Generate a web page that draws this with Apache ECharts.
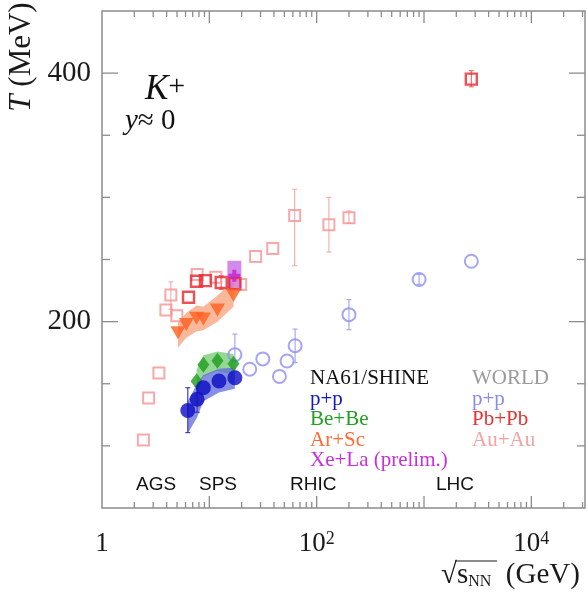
<!DOCTYPE html>
<html>
<head>
<meta charset="utf-8">
<script src="https://cdn.jsdelivr.net/npm/echarts@6/dist/echarts.min.js"></script>
<style>
html, body { margin: 0; padding: 0; background: #fff; }
#chart { width: 588px; height: 600px; }
</style>
</head>
<body>
<div id="chart"></div>
<script>
// axis ticks
const yTickValues = [50, 100, 150, 200, 250, 300, 350, 400, 450];
const yMajorLabels = [200, 400];
const xLabelExponents = [0, 2, 4];

// NA61/SHINE p+p
const na61PpX = [6.3, 7.7, 8.8, 12.3, 17.3];
const na61PpT = [128.5, 137.5, 146.8, 152.2, 154.8];
const na61PpBandLo = [110, 123, 136, 143, 146];
const na61PpBandHi = [136, 150, 157, 162, 163];
const na61PpErr = [[6.3, 110.7, 146.8], [7.7, 127, 148]];

// NA61/SHINE Be+Be
const beX = [7.6, 8.8, 11.9, 16.8];
const beT = [152, 165.3, 168.5, 166.1];
const beBandLo = [142, 156, 160, 157];
const beBandHi = [161, 173, 176, 174];

// NA61/SHINE Ar+Sc
const arX = [5.1, 6.1, 7.6, 8.8, 11.9, 16.8];
const arT = [191.1, 197.6, 202.8, 202.2, 209.3, 221];
const arBandLo = [179, 187, 192, 193, 200, 212];
const arBandHi = [199, 207, 213, 212, 221, 233];

// NA61/SHINE Xe+La (prelim.)
const xeX = [17.1];
const xeT = [237];
const xeBoxLo = [227];
const xeBoxHi = [249];

// WORLD p+p
const worldPpX = [17.3, 23.8, 31.5, 45, 53, 63, 200, 900, 2760];
const worldPpT = [173.4, 161.7, 170, 155.9, 168.3, 180.6, 205.6, 233.9, 248.6];
const worldPpErr = [[17.3, 160, 190], [63, 167, 194], [200, 193.5, 217.7], [900, 230, 238]];

// WORLD Pb+Pb
const pbX = [6.4, 7.6, 9.2, 12.9, 17.3, 2760];
const pbT = [219.6, 232.5, 233, 231.5, 230.6, 395.2];
const pbErr = [[12.9, 226, 237], [2760, 389, 402]];

// WORLD Au+Au
const auX = [2.43, 2.72, 3.39, 3.94, 4.38, 4.98, 7.7, 11.5, 19.6, 27, 39, 62.4, 130, 200];
const auT = [104.8, 138.5, 158.6, 209.3, 221.4, 204.8, 237.9, 235.7, 229.8, 252.4, 258.9, 285.5, 278, 283.6];
const auErr = [[4.38, 210, 232], [62.4, 245, 306.5], [130, 256, 300], [200, 279, 289]];

const X_MAX = Math.pow(10, 4.5);
const SERIF = 'Liberation Serif';
const SANS = 'Liberation Sans';

const zip = (xs, ys) => xs.map((x, i) => [x, ys[i]]);

function bandSeries(xs, lo, hi, color, z) {
  return {
    type: 'custom', coordinateSystem: 'cartesian2d', silent: true, z: z,
    data: [[xs[0], lo[0]]],
    renderItem: function (params, api) {
      const pts = [];
      xs.forEach((x, i) => pts.push(api.coord([x, hi[i]])));
      for (let i = xs.length - 1; i >= 0; i--) pts.push(api.coord([xs[i], lo[i]]));
      return { type: 'polygon', shape: { points: pts }, style: { fill: color } };
    }
  };
}

function errSeries(rows, color, z) {
  return {
    type: 'custom', coordinateSystem: 'cartesian2d', silent: true, z: z,
    data: rows,
    encode: { x: 0, y: [1, 2] },
    renderItem: function (params, api) {
      const a = api.coord([api.value(0), api.value(1)]);
      const b = api.coord([api.value(0), api.value(2)]);
      const st = { stroke: color, lineWidth: 1.2 };
      return {
        type: 'group', children: [
          { type: 'line', shape: { x1: a[0], y1: a[1], x2: b[0], y2: b[1] }, style: st },
          { type: 'line', shape: { x1: a[0] - 2.5, y1: a[1], x2: a[0] + 2.5, y2: a[1] }, style: st },
          { type: 'line', shape: { x1: b[0] - 2.5, y1: b[1], x2: b[0] + 2.5, y2: b[1] }, style: st }
        ]
      };
    }
  };
}

// frame ticks on all four sides (inside)
const tickSeries = {
  type: 'custom', coordinateSystem: 'cartesian2d', silent: true, z: 20,
  data: [[1, 50]],
  renderItem: function (params, api) {
    const ch = [];
    const st = { stroke: '#8c8c8c', lineWidth: 1.3 };
    const yb = api.coord([1, 50])[1];
    const yt = api.coord([1, 450])[1];
    for (let k = 0; k <= 4; k++) {
      for (let m = 1; m <= 9; m++) {
        const v = m * Math.pow(10, k);
        if (v <= 1 || v > X_MAX) continue;
        const x = api.coord([v, 50])[0];
        const len = m === 1 ? 12 : 6;
        ch.push({ type: 'line', shape: { x1: x, y1: yb, x2: x, y2: yb - len }, style: st });
        ch.push({ type: 'line', shape: { x1: x, y1: yt, x2: x, y2: yt + len }, style: st });
      }
    }
    const xl = api.coord([1, 50])[0];
    const xr = api.coord([X_MAX, 50])[0];
    yTickValues.forEach(v => {
      if (v === 50 || v === 450) return;
      const y = api.coord([1, v])[1];
      const len = yMajorLabels.includes(v) ? 16 : 8;
      ch.push({ type: 'line', shape: { x1: xl, y1: y, x2: xl + len, y2: y }, style: st });
      ch.push({ type: 'line', shape: { x1: xr, y1: y, x2: xr - len, y2: y }, style: st });
    });
    return { type: 'group', children: ch };
  }
};

const chart = echarts.init(document.getElementById('chart'));

function legendText(x, y, text, color) {
  return { type: 'text', x: x, y: y, style: { text: text, fill: color, font: '21px "' + SERIF + '"', verticalAlign: 'middle' } };
}
function machineText(x, y, text) {
  return { type: 'text', x: x, y: y, style: { text: text, fill: '#111', font: '19px "' + SANS + '"', verticalAlign: 'middle' } };
}

chart.setOption({
  animation: false,
  grid: { left: 102, top: 11, right: 0, bottom: 92, show: true, borderColor: '#8c8c8c', borderWidth: 1.5 },
  xAxis: {
    type: 'log', logBase: 10, min: 1, max: X_MAX,
    axisLine: { show: false }, axisTick: { show: false }, splitLine: { show: false },
    axisLabel: {
      margin: 22,
      formatter: function (v) {
        const e = Math.log10(v);
        const r = Math.round(e);
        if (Math.abs(e - r) > 1e-6 || !xLabelExponents.includes(r)) return '';
        return r === 0 ? '{b|1}' : '{b|10}{s|' + r + '}';
      },
      rich: {
        b: { fontFamily: SERIF, fontSize: 27, color: '#1a1a1a', lineHeight: 28 },
        s: { fontFamily: SERIF, fontSize: 18, color: '#1a1a1a', verticalAlign: 'top', lineHeight: 17 }
      }
    }
  },
  yAxis: {
    type: 'value', min: 50, max: 450, interval: 50,
    axisLine: { show: false }, axisTick: { show: false }, splitLine: { show: false },
    axisLabel: {
      margin: 11, fontFamily: SERIF, fontSize: 29, color: '#1a1a1a',
      formatter: v => yMajorLabels.includes(v) ? String(v) : ''
    }
  },
  graphic: [
    { type: 'text', x: 22, y: 57, rotation: Math.PI / 2,
      style: { text: '{i|T} (MeV)', align: 'center', verticalAlign: 'middle', fill: '#1a1a1a',
        font: '31px "' + SERIF + '"',
        rich: { i: { fontFamily: SERIF, fontStyle: 'italic', fontSize: 31 } } } },
    { type: 'text', x: 441, y: 575,
      style: { text: '{r|√}{s|s}{n|NN}  (GeV)', verticalAlign: 'middle', fill: '#1a1a1a',
        font: '29px "' + SERIF + '"',
        rich: { r: { fontFamily: SERIF, fontSize: 29 }, s: { fontFamily: SERIF, fontSize: 29 },
          n: { fontFamily: SERIF, fontSize: 16, verticalAlign: 'bottom', padding: [9, 0, 0, 0] } } } },
    { type: 'line', shape: { x1: 455, y1: 561, x2: 497, y2: 561 }, style: { stroke: '#1a1a1a', lineWidth: 1.2 } },
    { type: 'text', x: 145, y: 90,
      style: { text: '{k|K}{p|+}', verticalAlign: 'middle', fill: '#111',
        rich: { k: { fontFamily: SERIF, fontStyle: 'italic', fontSize: 35 },
          p: { fontFamily: SERIF, fontSize: 30, verticalAlign: 'top' } } } },
    { type: 'text', x: 125, y: 121,
      style: { text: '{i|y}≈ 0', verticalAlign: 'middle', fill: '#111', font: '29px "' + SERIF + '"',
        rich: { i: { fontFamily: SERIF, fontStyle: 'italic', fontSize: 29 } } } },
    legendText(310, 378, 'NA61/SHINE', '#111'),
    legendText(310, 399, 'p+p', '#1515c8'),
    legendText(310, 419, 'Be+Be', '#229e22'),
    legendText(310, 440, 'Ar+Sc', '#ff6a35'),
    legendText(310, 460, 'Xe+La (prelim.)', '#c830dc'),
    legendText(472, 378, 'WORLD', '#9a9a9a'),
    legendText(472, 399, 'p+p', '#8a8af0'),
    legendText(472, 419, 'Pb+Pb', '#e83030'),
    legendText(472, 440, 'Au+Au', '#f4a2a2'),
    machineText(136, 485, 'AGS'),
    machineText(199, 485, 'SPS'),
    machineText(290, 485, 'RHIC'),
    machineText(436, 485, 'LHC')
  ],
  series: [
    bandSeries(arX, arBandLo, arBandHi, '#f9b899', 2),
    bandSeries(beX, beBandLo, beBandHi, '#94d894', 2),
    bandSeries(na61PpX, na61PpBandLo, na61PpBandHi, 'rgba(95,105,220,0.75)', 3),
    {
      type: 'custom', coordinateSystem: 'cartesian2d', silent: true, z: 3,
      data: xeX.map((x, i) => [x, xeBoxLo[i], xeBoxHi[i]]),
      encode: { x: 0, y: [1, 2] },
      renderItem: function (params, api) {
        const a = api.coord([api.value(0), api.value(1)]);
        const b = api.coord([api.value(0), api.value(2)]);
        return { type: 'rect', shape: { x: a[0] - 7, y: b[1], width: 14, height: a[1] - b[1] },
          style: { fill: 'rgba(200,110,230,0.8)' } };
      }
    },
    errSeries(auErr, '#f6b0b0', 4),
    errSeries(worldPpErr, '#a8a8f2', 4),
    errSeries(pbErr, '#ee7070', 4),
    errSeries(na61PpErr, '#3a3ac8', 6),
    {
      name: 'Au+Au', type: 'scatter', z: 5, symbol: 'rect', symbolSize: 11,
      itemStyle: { color: 'rgba(255,255,255,0)', borderColor: '#f39494', borderWidth: 2 },
      data: zip(auX, auT)
    },
    {
      name: 'Pb+Pb', type: 'scatter', z: 5, symbol: 'rect', symbolSize: 11,
      itemStyle: { color: 'rgba(255,255,255,0)', borderColor: '#e8262e', borderWidth: 2.4 },
      data: zip(pbX, pbT)
    },
    {
      name: 'WORLD p+p', type: 'scatter', z: 5, symbol: 'circle', symbolSize: 13,
      itemStyle: { color: 'rgba(255,255,255,0)', borderColor: '#8f8ff0', borderWidth: 2 },
      data: zip(worldPpX, worldPpT)
    },
    {
      name: 'Ar+Sc', type: 'scatter', z: 7, symbol: 'triangle', symbolRotate: 180, symbolSize: [15, 13],
      itemStyle: { color: '#ff5f1f' },
      data: zip(arX, arT)
    },
    {
      name: 'Be+Be', type: 'scatter', z: 7, symbol: 'diamond', symbolSize: [12, 16],
      itemStyle: { color: '#1d9e1d' },
      data: zip(beX, beT)
    },
    {
      name: 'p+p', type: 'scatter', z: 8, symbol: 'circle', symbolSize: 15,
      itemStyle: { color: '#0a0ac0' },
      data: zip(na61PpX, na61PpT)
    },
    {
      name: 'Xe+La', type: 'scatter', z: 8, symbol: 'path://M4,0H8V4H12V8H8V12H4V8H0V4H4Z', symbolSize: 12,
      itemStyle: { color: '#c81ec8' },
      data: zip(xeX, xeT)
    },
    tickSeries
  ]
});
</script>
</body>
</html>
